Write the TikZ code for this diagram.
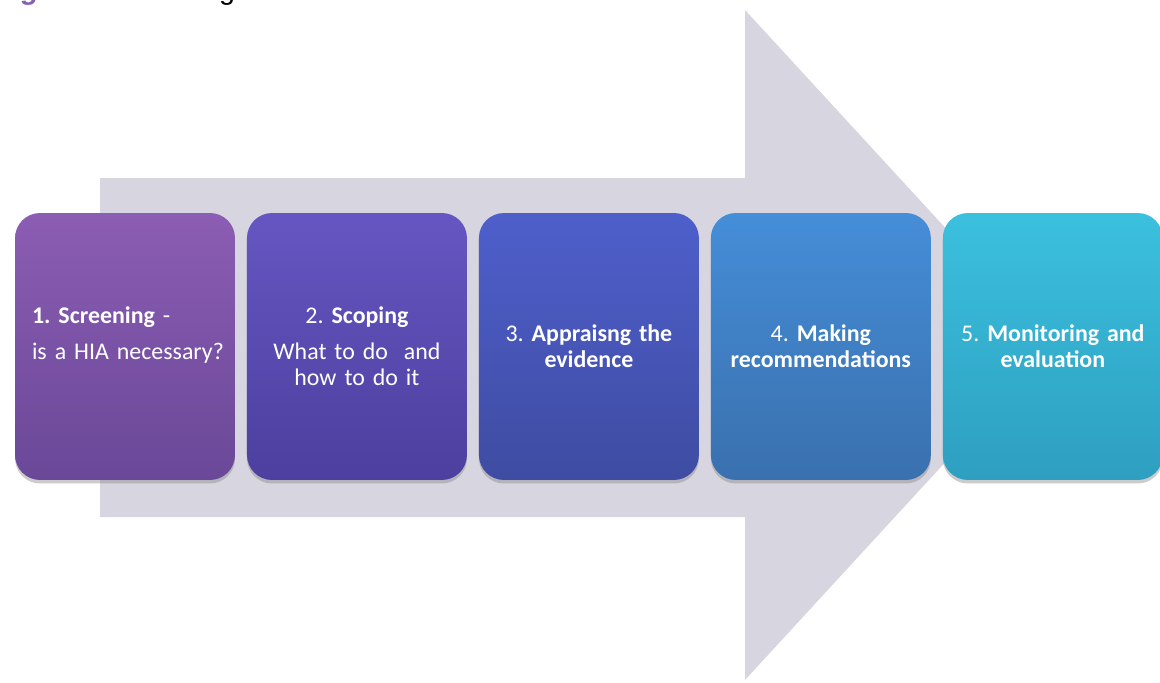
\documentclass[tikz,border=0pt]{standalone}
\usepackage{fontspec}
\setmainfont{Carlito}
\newfontfamily\titlefont{Liberation Sans}
\usepackage{tikz}
\usepackage{xcolor}
\usetikzlibrary{positioning,shadows}
\hyphenpenalty=10000
\frenchspacing

\definecolor{arrowgray}{HTML}{D6D5E0}
\definecolor{figpurple}{HTML}{8462AE}
\definecolor{oneT}{HTML}{8B5DB3}\definecolor{oneB}{HTML}{6A4898}
\definecolor{twoT}{HTML}{6656C2}\definecolor{twoB}{HTML}{4C3F9E}
\definecolor{threeT}{HTML}{4E5FCB}\definecolor{threeB}{HTML}{3F4CA2}
\definecolor{fourT}{HTML}{458ED8}\definecolor{fourB}{HTML}{3A70AE}
\definecolor{fiveT}{HTML}{3BC0DE}\definecolor{fiveB}{HTML}{2E9FC0}

\tikzset{
  stage/.style={rectangle, rounded corners=0.5cm, minimum width=4.4cm,
    minimum height=5.34cm, text width=4.1cm, inner xsep=0.15cm, align=center,
    text=white, font=\fontsize{13.6}{14.8}\selectfont,
    drop shadow={shadow xshift=0pt, shadow yshift=-2pt, opacity=0.4}},
  shade/.style 2 args={top color=#1, bottom color=#2}
}

\begin{document}
\begin{tikzpicture}[x=0.02cm,y=-0.02cm,node distance=4.64cm,on grid]
   \useasboundingbox (0,0) rectangle (1160,683);

   \fill[arrowgray] (100,178) -- (745,178) -- (745,10) -- (1053,345)
      -- (745,680) -- (745,517) -- (100,517) -- cycle;

   \node[anchor=base west, inner sep=0pt] (title) at (-4,-1)
      {\titlefont\fontsize{16.3}{18}\selectfont{\color{figpurple}\bfseries\itshape Figure 1:} HIA stages};

   \node[stage, shade={oneT}{oneB}, align=left, text width=3.72cm, inner xsep=0.34cm] (s1) at (125,346.5)
      {\textbf{1. Screening} -\\[5.7pt] \mbox{is a HIA necessary?}\\ \mbox{}};
   \node[stage, shade={twoT}{twoB}] (s2) [right=of s1]
      {2. \textbf{Scoping}\\[5.7pt] What to do\ \ and\\ how to do it};
   \node[stage, shade={threeT}{threeB}] (s3) [right=of s2]
      {3. \textbf{Appraisng the\\ evidence}};
   \node[stage, shade={fourT}{fourB}] (s4) [right=of s3]
      {4. \textbf{Making\\ recommendations}};
   \node[stage, shade={fiveT}{fiveB}] (s5) [right=of s4]
      {5. \textbf{Monitoring and\\ evaluation}};
\end{tikzpicture}
\end{document}
